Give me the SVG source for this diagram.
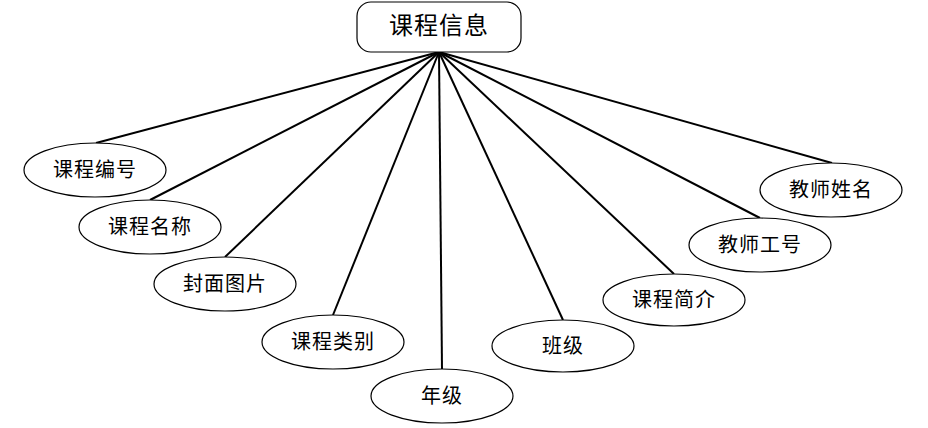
<svg xmlns="http://www.w3.org/2000/svg" width="928" height="428" viewBox="0 0 928 428">
<style>
.e{fill:#fff;stroke:#000;stroke-width:1.2}
.t{font-family:"Noto Sans CJK SC","Noto Sans",sans-serif;font-size:20px;text-anchor:middle;fill:#000;letter-spacing:1px}
.c line{stroke:#000;stroke-width:2}
</style>
<rect width="928" height="428" fill="#fff"/>
<g class="c" id="connectors">
<line x1="439" y1="52" x2="96" y2="143"/>
<line x1="439" y1="52" x2="150" y2="200"/>
<line x1="439" y1="52" x2="225" y2="257"/>
<line x1="439" y1="52" x2="333" y2="315"/>
<line x1="439" y1="52" x2="442" y2="369"/>
<line x1="439" y1="52" x2="563" y2="320"/>
<line x1="439" y1="52" x2="674" y2="274"/>
<line x1="439" y1="52" x2="760" y2="218"/>
<line x1="439" y1="52" x2="832" y2="163"/>
</g>
<g id="root">
<rect x="357" y="2" width="164" height="50" rx="14" fill="#fff" stroke="#000" stroke-width="1.2"/>
<text x="439" y="34" class="t" style="font-size:24px">课程信息</text>
</g>
<g id="n1"><ellipse class="e" cx="95" cy="170" rx="71" ry="27"/><text class="t" x="95" y="177">课程编号</text></g>
<g id="n2"><ellipse class="e" cx="150" cy="227" rx="71" ry="27"/><text class="t" x="150" y="234">课程名称</text></g>
<g id="n3"><ellipse class="e" cx="225" cy="284" rx="71" ry="27"/><text class="t" x="225" y="291">封面图片</text></g>
<g id="n4"><ellipse class="e" cx="333" cy="342" rx="71" ry="27"/><text class="t" x="333" y="349">课程类别</text></g>
<g id="n5"><ellipse class="e" cx="442" cy="396" rx="71" ry="27"/><text class="t" x="442" y="403">年级</text></g>
<g id="n6"><ellipse class="e" cx="563" cy="346" rx="71" ry="26"/><text class="t" x="563" y="353">班级</text></g>
<g id="n7"><ellipse class="e" cx="674" cy="300" rx="71" ry="26"/><text class="t" x="674" y="307">课程简介</text></g>
<g id="n8"><ellipse class="e" cx="760" cy="245" rx="71" ry="27"/><text class="t" x="760" y="252">教师工号</text></g>
<g id="n9"><ellipse class="e" cx="831" cy="190" rx="71" ry="27"/><text class="t" x="831" y="197">教师姓名</text></g>
</svg>
